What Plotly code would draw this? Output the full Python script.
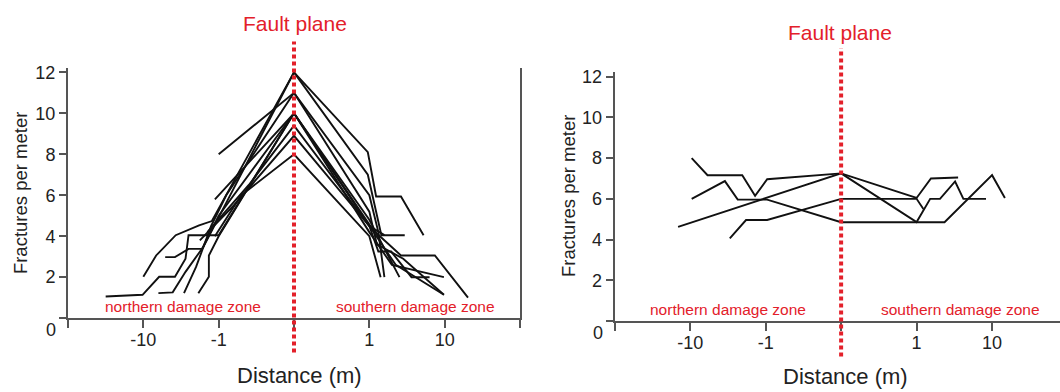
import plotly.graph_objects as go

W, H = 1060, 392
FONT = "Liberation Sans, Arial, sans-serif"
RED = "#e3202a"
LINE = "#111111"
AXIS = "#555555"

# Pseudo-log distance axis: tick positions and their labels (m)
x_tick_vals = [-3, -2, -1, 0, 1, 2, 3]
x_tick_text = ["", "-10", "-1", "", "1", "10", ""]
y_tick_vals = [0, 2, 4, 6, 8, 10, 12]
y_tick_text = ["", "2", "4", "6", "8", "10", "12"]
fault_pos = 0

# ---- Left panel profiles (axis position, fractures per meter) ----
L1_x = [-2.0, -1.83, -1.57, -1.26, -1.09, 0, 0.98, 1.09, 1.42, 1.72]
L1_y = [2.02, 3.06, 4.05, 4.53, 4.74, 12, 8.1, 5.94, 5.94, 4.05]
L2_x = [-1.8, -1.61, -1.44, -1.2, 0, 0.98, 1.16, 1.47]
L2_y = [1.22, 1.26, 2.26, 3.5, 12, 7.0, 4.05, 4.05]
L3_x = [-1.0, 0, 1.0, 1.12, 1.2]
L3_y = [8.0, 11, 6.0, 4.2, 2.0]
L4_x = [-1.46, -1.3, -1.1, -0.9, 0, 1.0, 1.1, 1.45, 1.99]
L4_y = [1.22, 2.5, 4.5, 6.0, 11, 5.2, 3.6, 2.9, 1.14]
L5_x = [-2.5, -2.01, -1.79, -1.58, -1.44, -1.4, -1.0, 0, 1.0, 1.12, 1.29, 1.56, 1.8]
L5_y = [1.06, 1.14, 2.02, 2.02, 2.9, 4.05, 4.05, 10, 4.5, 3.25, 3.25, 2.0, 2.0]
L6_x = [-1.27, -1.13, -1.13, -1.0, 0, 1.05, 1.42, 1.87, 2.31]
L6_y = [1.22, 2.02, 3.06, 4.0, 10, 4.3, 3.06, 3.06, 1.0]
L7_x = [-1.71, -1.58, -1.4, -1.22, -1.0, 0, 1.0, 1.4]
L7_y = [2.98, 2.98, 3.38, 3.38, 5.0, 10, 4.8, 2.0]
L8_x = [-1.05, 0, 1.0, 1.3, 1.99]
L8_y = [5.8, 10, 4.2, 2.6, 2.0]
L9_x = [-1.15, -0.6, 0, 1.0, 1.2]
L9_y = [4.2, 6.5, 9.4, 4.5, 4.05]
L10_x = [-1.25, -0.8, 0, 1.02, 1.35, 1.99]
L10_y = [3.8, 5.5, 8.9, 4.4, 2.6, 1.14]
L11_x = [-1.05, -0.7, 0, 1.0, 1.15]
L11_y = [4.0, 6.0, 8.0, 4.0, 2.0]

# ---- Right panel profiles ----
R1_x = [-1.98, -1.77, -1.31, -1.14, -0.98, 0, 1.0, 1.19, 1.55]
R1_y = [8.0, 7.16, 7.16, 6.15, 6.96, 7.25, 6.04, 7.0, 7.05]
R2_x = [-2.16, 0, 1.0, 1.18, 1.31, 1.51, 1.62, 1.92]
R2_y = [4.62, 7.25, 4.86, 6.0, 6.0, 6.85, 6.0, 6.0]
R3_x = [-1.98, -1.54, -1.37, -0.98, 0, 1.37, 2.0, 2.17]
R3_y = [6.0, 6.87, 5.96, 5.96, 4.85, 4.85, 7.16, 6.04]
R4_x = [-1.475, -1.26, -0.98, 0, 1.0, 1.09]
R4_y = [4.06, 4.96, 4.96, 6.0, 6.0, 5.5]

left_lines = [(L1_x, L1_y), (L2_x, L2_y), (L3_x, L3_y), (L4_x, L4_y), (L5_x, L5_y),
              (L6_x, L6_y), (L7_x, L7_y), (L8_x, L8_y), (L9_x, L9_y), (L10_x, L10_y),
              (L11_x, L11_y)]
right_lines = [(R1_x, R1_y), (R2_x, R2_y), (R3_x, R3_y), (R4_x, R4_y)]


def px(x):
    return x / W


def py(y):
    return 1 - y / H


fig = go.Figure()
for xs, ys in left_lines:
    fig.add_trace(go.Scatter(x=xs, y=ys, mode="lines", xaxis="x", yaxis="y",
                             line=dict(color=LINE, width=1.9), showlegend=False,
                             hoverinfo="skip"))
for xs, ys in right_lines:
    fig.add_trace(go.Scatter(x=xs, y=ys, mode="lines", xaxis="x2", yaxis="y2",
                             line=dict(color=LINE, width=1.9), showlegend=False,
                             hoverinfo="skip"))

tickfont = dict(family=FONT, size=18, color="#222222")
xcommon = dict(tickmode="array", tickvals=x_tick_vals, ticktext=x_tick_text,
               showline=True, linecolor=AXIS, linewidth=2, ticks="outside",
               ticklen=8, tickwidth=2, tickcolor=AXIS, showgrid=False,
               zeroline=False, tickfont=tickfont, ticklabelstandoff=-4)
ycommon = dict(tickmode="array", tickvals=y_tick_vals, ticktext=y_tick_text,
               range=[0, 12.2], showline=True, linecolor=AXIS, linewidth=2,
               ticks="outside", ticklen=7, tickwidth=2, tickcolor=AXIS,
               showgrid=False, zeroline=False, tickfont=tickfont)

fig.update_layout(
    width=W, height=H, margin=dict(l=0, r=0, t=0, b=0),
    paper_bgcolor="white", plot_bgcolor="white",
    xaxis=dict(domain=[px(68), px(520)], range=[-3, 3], anchor="y", **xcommon),
    yaxis=dict(domain=[py(317), py(63.2)], anchor="x", mirror=True, **ycommon),
    xaxis2=dict(domain=[px(614.7), 1.0], range=[-3, 2.9], anchor="y2", **xcommon),
    yaxis2=dict(domain=[py(320), py(67.5)], anchor="x2", **ycommon),
)

# Fault plane dotted lines
for xr, ytop, ybot in [("x", 36, 352), ("x2", 43, 356)]:
    fig.add_shape(type="line", xref=xr, yref="paper", x0=fault_pos, x1=fault_pos,
                  y0=py(ybot), y1=py(ytop),
                  line=dict(color=RED, width=4, dash="4px,3px"))

ann = []
def text(x, y, s, size, color="#222222", angle=0):
    ann.append(dict(x=px(x), y=py(y), xref="paper", yref="paper", text=s,
                    showarrow=False, textangle=angle, xanchor="center",
                    yanchor="middle", font=dict(family=FONT, size=size, color=color)))

text(295, 18, "Fault plane", 21, RED)
text(840, 27, "Fault plane", 21, RED)
text(183, 305, "northern damage zone", 15.5, RED)
text(415.5, 305, "southern damage zone", 15.5, RED)
text(728, 308, "northern damage zone", 15.5, RED)
text(960, 308, "southern damage zone", 15.5, RED)
text(299, 375, "Distance (m)", 22)
text(845, 376, "Distance (m)", 22)
text(20, 190, "Fractures per meter", 18.5, angle=-90)
text(568, 193, "Fractures per meter", 18.5, angle=-90)
text(51, 329, "0", 18)
text(598, 332, "0", 18)
fig.update_layout(annotations=ann)

fig.write_html("out.html", config={"displayModeBar": False},
               post_script="document.body.style.margin='0px';document.body.style.overflow='hidden';")
